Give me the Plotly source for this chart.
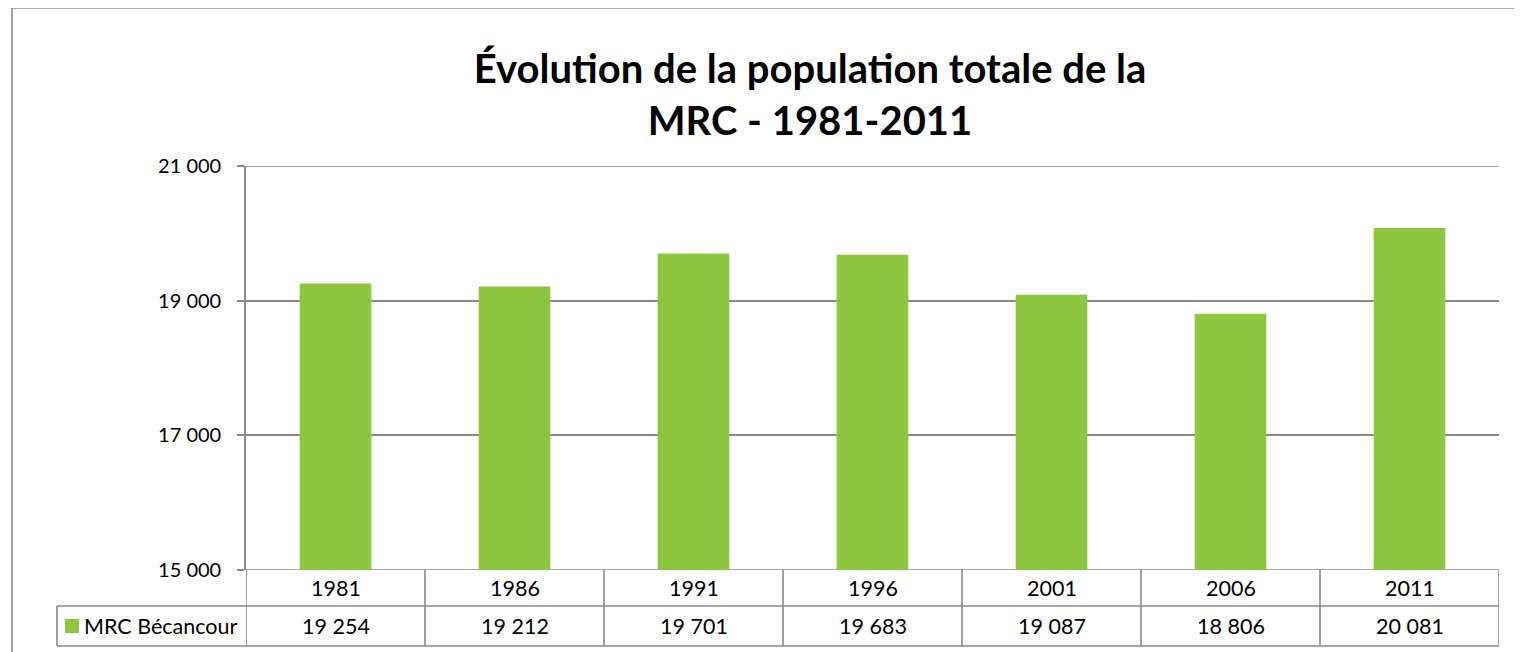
import plotly.graph_objects as go

years = ["1981", "1986", "1991", "1996", "2001", "2006", "2011"]
population = [19254, 19212, 19701, 19683, 19087, 18806, 20081]
series_name = "MRC Bécancour"
title_text = "Évolution de la population totale de la<br>MRC - 1981-2011"
y_ticks = [15000, 17000, 19000, 21000]
y_range = [15000, 21000]

GREEN = "#8DC63F"
GRID = "#8A8A8A"
FONT = "Lato"

W, H = 1522, 652
OFF = 8  # page body margin offset
PL, PR, PT, PB = 246, 1499, 166, 570
L = PL - OFF
T = PT - OFF
R = W - (PR - OFF)
B = H - (PB - OFF)
plot_w = W - L - R
plot_h = H - T - B

def py(page_y):
    return (PB - page_y) / plot_h

def px(page_x):
    return (page_x - PL) / plot_w

def fmt(v):
    return f"{v:,}".replace(",", " ")

fig = go.Figure()
fig.add_trace(go.Bar(
    x=years, y=population, name=series_name,
    marker=dict(color=GREEN, line=dict(width=0)),
    width=0.40, showlegend=False,
))

row1_top, row1_bot, row2_bot = 570, 606, 646
shapes = []
line_style = dict(color=GRID, width=1.6)
n = len(years)
# gridlines at range edges
for yv in y_range:
    shapes.append(dict(type="line", xref="paper", yref="y", x0=0, x1=1, y0=yv, y1=yv,
                       line=line_style, layer="below"))
shapes.append(dict(type="line", xref="paper", yref="paper", x0=px(57), x1=1,
                   y0=py(row1_bot), y1=py(row1_bot), line=line_style))
shapes.append(dict(type="line", xref="paper", yref="paper", x0=px(57), x1=1,
                   y0=py(row2_bot), y1=py(row2_bot), line=line_style))
for i in range(n + 1):
    shapes.append(dict(type="line", xref="x", yref="paper", x0=i - 0.5, x1=i - 0.5,
                       y0=0, y1=py(row2_bot), line=line_style))
shapes.append(dict(type="line", xref="paper", yref="paper", x0=px(57), x1=px(57),
                   y0=py(row1_bot), y1=py(row2_bot), line=line_style))
shapes.append(dict(type="rect", xref="paper", yref="paper", x0=px(65), x1=px(79),
                   y0=py(633), y1=py(619), fillcolor=GREEN, line=dict(width=0)))
shapes.append(dict(type="line", xref="paper", yref="paper", x0=px(12), x1=px(12),
                   y0=py(700), y1=py(8), line=dict(color="#8C8C8C", width=1.6)))
shapes.append(dict(type="line", xref="paper", yref="paper", x0=px(12), x1=px(1560),
                   y0=py(8), y1=py(8), line=dict(color="#8C8C8C", width=1.6)))

FS = 21.5
annotations = []
for i, (yr, v) in enumerate(zip(years, population)):
    annotations.append(dict(x=i, xref="x", y=py((row1_top + row1_bot) / 2), yref="paper",
                            text=yr, showarrow=False, font=dict(size=FS, color="#000", family=FONT),
                            xanchor="center", yanchor="middle"))
    annotations.append(dict(x=i, xref="x", y=py((row1_bot + row2_bot) / 2), yref="paper",
                            text=fmt(v), showarrow=False, font=dict(size=FS, color="#000", family=FONT),
                            xanchor="center", yanchor="middle"))
annotations.append(dict(x=px(82), xref="paper", y=py((row1_bot + row2_bot) / 2), yref="paper",
                        text=series_name, showarrow=False, font=dict(size=FS, color="#000", family=FONT),
                        xanchor="left", yanchor="middle"))

fig.update_layout(
    width=W, height=H,
    margin=dict(l=L, r=R, t=T, b=B, pad=0),
    paper_bgcolor="white", plot_bgcolor="white",
    separators=", ",
    title=dict(text=title_text, x=(810 - OFF) / W, xanchor="center",
               y=1 - (83 - OFF) / H, yanchor="middle",
               font=dict(family=FONT, size=40, color="#000", weight="bold")),
    font=dict(family=FONT, size=20, color="#000"),
    xaxis=dict(type="category", showticklabels=False, ticks="", showgrid=False,
               showline=False, zeroline=False, range=[-0.5, n - 0.5]),
    yaxis=dict(range=y_range, tickvals=y_ticks, tickformat=",d",
               showgrid=True, gridcolor=GRID, gridwidth=1.6,
               showline=True, linecolor=GRID, linewidth=1.6,
               ticks="outside", ticklen=7, tickcolor=GRID, tickwidth=1.6,
               ticklabelstandoff=12, zeroline=False,
               tickfont=dict(family=FONT, size=20, color="#000")),
    shapes=shapes, annotations=annotations,
)

fig.write_html("out.html")
